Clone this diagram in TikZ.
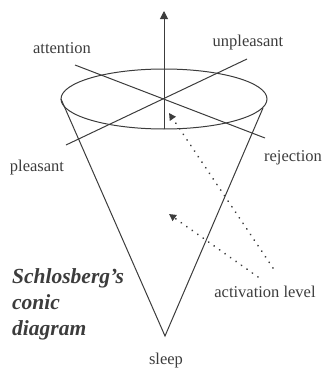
\documentclass[tikz,border=0pt]{standalone}
\usepackage{fontspec}
\setmainfont{Liberation Serif}
\usetikzlibrary{arrows.meta}
\definecolor{ink}{HTML}{3C3C3C}
\tikzset{
  ln/.style={draw=ink,line width=1pt},
  ax/.style={ln,-{Triangle[length=8pt,width=8pt]}},
  dots/.style={draw=ink,line width=1.8pt,line cap=round,dash pattern=on 0.2pt off 6.5pt,-{Triangle[length=7pt,width=7pt]}},
  lbl/.style={font=\fontsize{16.5}{19}\selectfont,text=ink,inner sep=0pt},
}

\begin{document}
\begin{tikzpicture}[x=1pt,y=-1pt]
\useasboundingbox (0,0) rectangle (327,372);
% rim of the cone
\coordinate (c) at (164,99);
\draw[ln] (c) ellipse [x radius=103, y radius=30];
% cone sides
\coordinate (apex) at (165,336);
\coordinate (rimL) at (61,99);
\coordinate (rimR) at (263,108);
\draw[ln] (rimL) -- (apex) -- (rimR);
% axes through the rim
\coordinate (axB) at (164,129);
\coordinate (axT) at (164,11);
\draw[ax] (axB) -- (axT);
\coordinate (att) at (75,65);
\coordinate (rej) at (265,138);
\coordinate (ple) at (66,145);
\coordinate (unp) at (247,59);
\draw[ln] (att) -- (rej);
\draw[ln] (ple) -- (unp);
% labels
\node[lbl] (lAtt) at (62,48) {attention};
\node[lbl] (lUnp) at (248,43) {unpleasant};
\node[lbl] (lPle) at (37,168) {pleasant};
\node[lbl] (lRej) at (293,158) {rejection};
\node[lbl] (lSlp) at (166,361) {sleep};
\node[lbl] (lAct) at (265,292) {activation level};
% activation level pointers
\coordinate (d1s) at (273,268);
\coordinate (d1e) at (169,113);
\coordinate (d2s) at (258,277);
\coordinate (d2e) at (169,214);
\draw[dots] (d1s) -- (d1e);
\draw[dots] (d2s) -- (d2e);
\node[anchor=north west,align=left,inner sep=0pt,text=ink,
  font=\fontsize{21.5}{26}\selectfont\bfseries\itshape] (title) at (12,268)
  {Schlosberg's\\conic\\diagram};
\end{tikzpicture}
\end{document}
